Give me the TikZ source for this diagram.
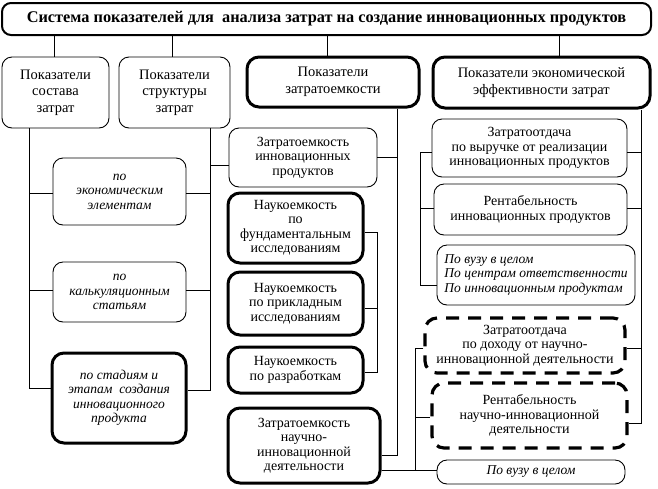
\documentclass[tikz,border=0pt]{standalone}
\usepackage{fontspec}
\setmainfont{Liberation Serif}
\begin{document}
\begin{tikzpicture}[x=1pt,y=-1pt,
  base/.style={draw, align=center, inner sep=0pt, rounded corners=10pt,
    line width=0.9pt, font=\fontsize{14}{14.5}\selectfont},
  top/.style={base, font=\fontsize{14.5}{16.5}\selectfont},
  heavy/.style={base, line width=3pt, rounded corners=12pt},
  heavytop/.style={top, line width=3pt, rounded corners=12pt},
  dashbox/.style={base, line width=3.2pt, rounded corners=12pt, dash pattern=on 13pt off 9pt},
  ital/.style={font=\fontsize{13.5}{14.5}\selectfont\itshape},
  conn/.style={line width=0.9pt},
  sz/.style 2 args={minimum width=#1pt, minimum height=#2pt}]
\useasboundingbox (0,0) rectangle (658,488);
% title
\node[base, line width=2pt, rounded corners=9pt, sz={649}{32},
  font=\fontsize{16.3}{18}\selectfont\bfseries] (title) at (326.5,19)
  {Система показателей для \ анализа затрат на создание инновационных продуктов};
% top row
\node[top, sz={107}{71}] (b1) at (55.5,92.5) {Показатели\\состава\\затрат};
\node[top, sz={111}{71}] (b2) at (174.5,92.5) {Показатели\\структуры\\затрат};
\node[heavytop, sz={172}{50}] (b3) at (333,82) {Показатели\\затратоемкости};
\node[heavytop, sz={217}{51}] (b4) at (541.5,82.5) {Показатели экономической\\эффективности затрат};
% left column
\node[base, ital, sz={133}{67}] (l1) at (119.5,191.5) {по\\экономическим\\элементам};
\node[base, ital, sz={133}{60}] (l2) at (119.5,292) {по\\калькуляционным\\статьям};
\node[heavy, ital, sz={134}{90}] (l3) at (119,398) {по стадиям и\\этапам \ создания\\инновационного\\продукта};
% middle column
\node[base, sz={148}{59}] (m0) at (303,157.5) {Затратоемкость\\инновационных\\продуктов};
\node[heavy, sz={135}{70}] (m1) at (295.5,228) {Наукоемкость\\по\\фундаментальным\\исследованиям};
\node[heavy, sz={135}{63}] (m2) at (295.5,303.5) {Наукоемкость\\по прикладным\\исследованиям};
\node[heavy, sz={135}{46}] (m3) at (295.5,370) {Наукоемкость\\по разработкам};
\node[heavy, sz={152}{75}] (m4) at (304,445.5) {Затратоемкость\\научно-\\инновационной\\деятельности};
% right column
\node[base, sz={195}{58}] (r1) at (529.5,148) {Затратоотдача\\по выручке от реализации\\инновационных продуктов};
\node[base, sz={193}{51}] (r2) at (530.5,209.5) {Рентабельность\\инновационных продуктов};
\node[base, ital, align=left, sz={198}{60}] (r3) at (536,275) {По вузу в целом\\По центрам ответственности\\По инновационным продуктам};
\node[dashbox, sz={200}{55}] (r4) at (525,345.5) {Затратоотдача\\по доходу от научно-\\инновационной деятельности};
\node[dashbox, sz={195}{65}] (r5) at (529.5,415.5) {Рентабельность\\научно-инновационной\\деятельности};
\node[base, ital, sz={188}{24}] (r6) at (531,472) {По вузу в целом};
% junction coordinates
\coordinate (t1) at (54,0);
\coordinate (t2) at (172,0);
\coordinate (t3) at (327,0);
\coordinate (t4) at (559,0);
\coordinate (la) at (29,388);
\coordinate (ra) at (210,390);
\coordinate (ma) at (397,455);
\coordinate (mb1) at (377,232);
\coordinate (mb2) at (377,372);
\coordinate (rb1) at (420,152);
\coordinate (rb2) at (420,285);
\coordinate (rc) at (641,423);
\coordinate (rd1) at (415,348);
\coordinate (rd2) at (415,470);
% connectors from title
\draw[conn] (title.south -| t1) -- (b1.north -| t1);
\draw[conn] (title.south -| t2) -- (b2.north -| t2);
\draw[conn] (title.south -| t3) -- (b3.north -| t3);
\draw[conn] (title.south -| t4) -- (b4.north -| t4);
% left bracket
\draw[conn] (b1.south -| la) -- (la) -- (l3.west |- la);
\draw[conn] (la |- 0,193) -- (l1.west |- 0,193);
\draw[conn] (la |- 0,290) -- (l2.west |- 0,290);
% bracket from b2
\draw[conn] (b2.south -| ra) -- (ra) -- (l3.east |- ra);
\draw[conn] (ra |- 0,193) -- (l1.east |- 0,193);
\draw[conn] (ra |- 0,290) -- (l2.east |- 0,290);
\draw[conn] (ra |- 0,165) -- (m0.west |- 0,165);
% bracket from b3
\draw[conn] (b3.south -| ma) -- (ma) -- (m4.east |- ma);
\draw[conn] (ma |- 0,157) -- (m0.east |- 0,157);
% science bracket
\draw[conn] (m1.east |- mb1) -- (mb1) -- (mb2) -- (m3.east |- mb2);
\draw[conn] (mb1 |- 0,308) -- (m2.east |- 0,308);
% right-left bracket
\draw[conn] (r1.west |- rb1) -- (rb1) -- (rb2) -- (r3.west |- rb2);
\draw[conn] (rb1 |- 0,208) -- (r2.west |- 0,208);
% right bracket from b4
\draw[conn] (b4.south -| rc) -- (rc) -- (r5.east |- rc);
\draw[conn] (rc |- 0,152) -- (r1.east |- 0,152);
\draw[conn] (rc |- 0,208) -- (r2.east |- 0,208);
\draw[conn] (rc |- 0,348) -- (r4.east |- 0,348);
% bottom
\draw[conn] (m4.east |- rd2) -- (r6.west |- rd2);
\draw[conn] (r4.west |- rd1) -- (rd1) -- (rd2);
\draw[conn] (rd1 |- 0,417) -- (r5.west |- 0,417);
\end{tikzpicture}
\end{document}
